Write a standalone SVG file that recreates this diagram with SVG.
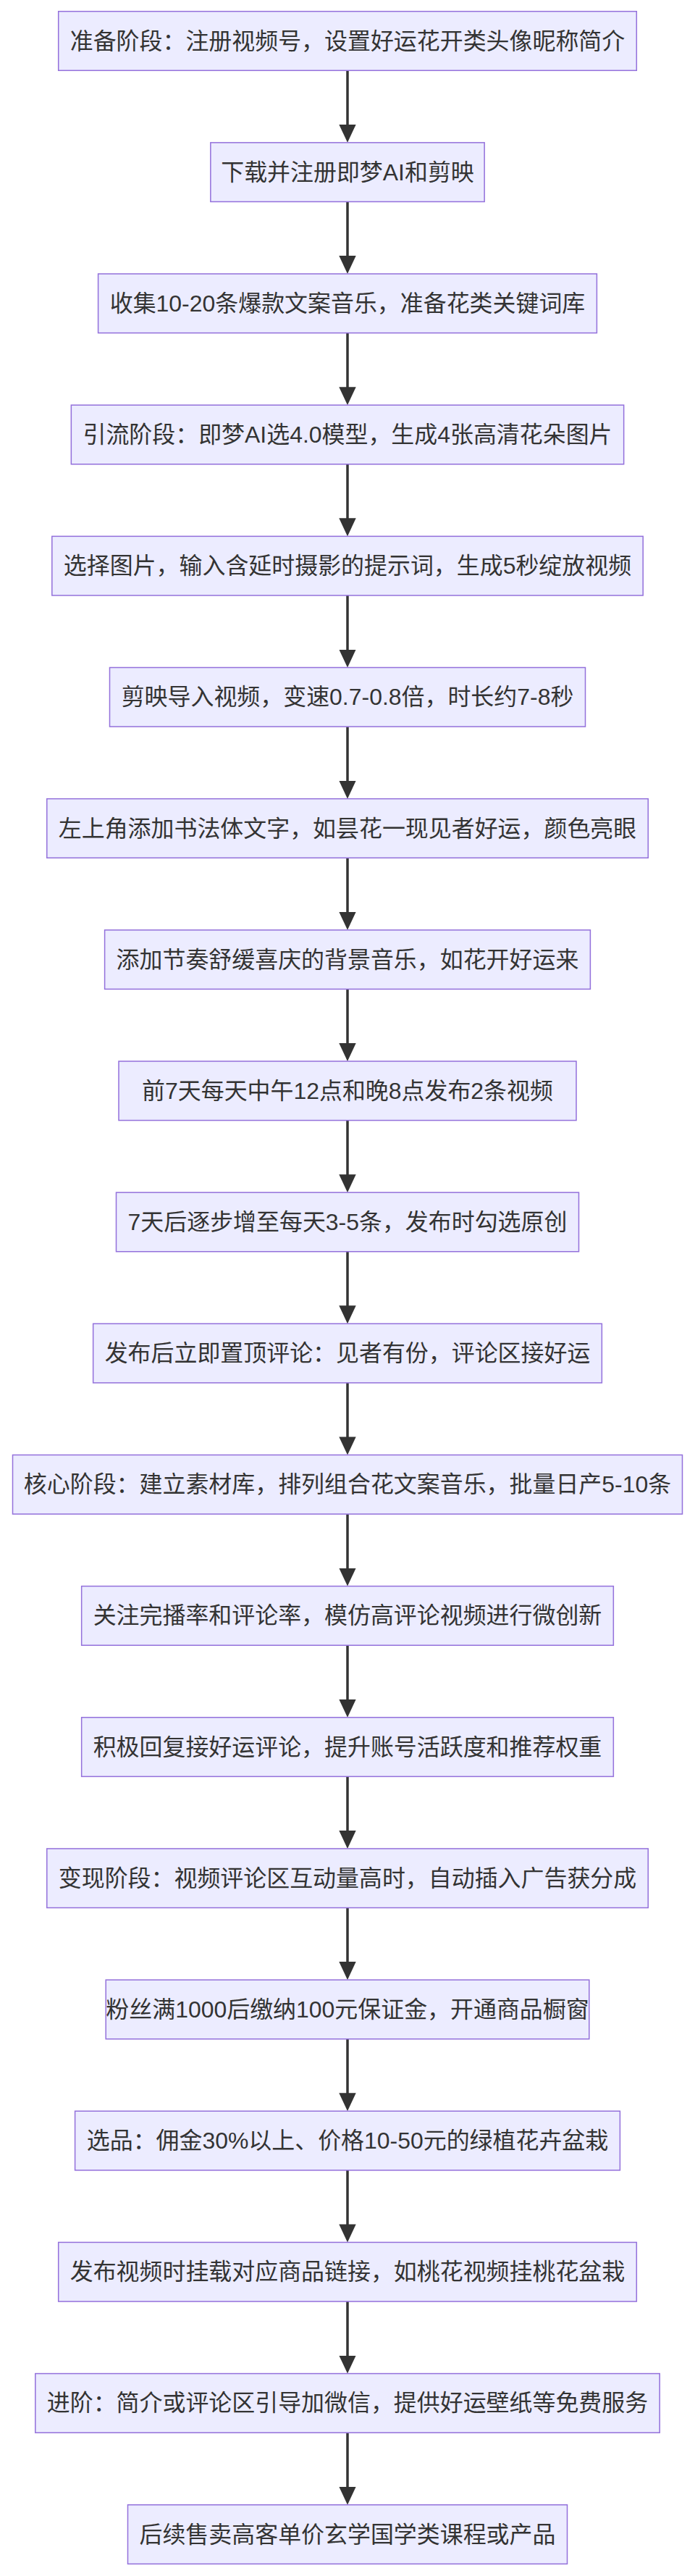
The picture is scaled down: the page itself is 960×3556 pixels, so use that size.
<svg xmlns="http://www.w3.org/2000/svg" width="960" height="3556" viewBox="0 0 960 3556">
<style>
.node rect{fill:#ECECFF;stroke:#9370DB;stroke-width:1.5px;}
.node text{fill:#333;font-family:"Liberation Sans","Noto Sans CJK SC",sans-serif;font-size:31.94px;text-anchor:middle;dominant-baseline:central;}
.edge{stroke:#333;stroke-width:3.5px;fill:none;}
</style>
<defs>
<marker id="arrow" viewBox="0 0 25 23.4" refX="5" refY="11.7" markerWidth="25" markerHeight="23.4" markerUnits="userSpaceOnUse" orient="auto">
<path d="M0,0 L25,11.7 L0,23.4 z" fill="#333"/>
</marker>
</defs>
<rect width="960" height="3556" fill="#fff"/>
<g id="connectors">
<path class="edge" marker-end="url(#arrow)" d="M480,97.3 L480,176.86"/>
<path class="edge" marker-end="url(#arrow)" d="M480,278.46 L480,358.02"/>
<path class="edge" marker-end="url(#arrow)" d="M480,459.62 L480,539.18"/>
<path class="edge" marker-end="url(#arrow)" d="M480,640.78 L480,720.34"/>
<path class="edge" marker-end="url(#arrow)" d="M480,821.94 L480,901.5"/>
<path class="edge" marker-end="url(#arrow)" d="M480,1003.1 L480,1082.66"/>
<path class="edge" marker-end="url(#arrow)" d="M480,1184.26 L480,1263.82"/>
<path class="edge" marker-end="url(#arrow)" d="M480,1365.42 L480,1444.98"/>
<path class="edge" marker-end="url(#arrow)" d="M480,1546.58 L480,1626.14"/>
<path class="edge" marker-end="url(#arrow)" d="M480,1727.74 L480,1807.3"/>
<path class="edge" marker-end="url(#arrow)" d="M480,1908.9 L480,1988.46"/>
<path class="edge" marker-end="url(#arrow)" d="M480,2090.06 L480,2169.62"/>
<path class="edge" marker-end="url(#arrow)" d="M480,2271.22 L480,2350.78"/>
<path class="edge" marker-end="url(#arrow)" d="M480,2452.38 L480,2531.94"/>
<path class="edge" marker-end="url(#arrow)" d="M480,2633.54 L480,2713.1"/>
<path class="edge" marker-end="url(#arrow)" d="M480,2814.7 L480,2894.26"/>
<path class="edge" marker-end="url(#arrow)" d="M480,2995.86 L480,3075.42"/>
<path class="edge" marker-end="url(#arrow)" d="M480,3177.02 L480,3256.58"/>
<path class="edge" marker-end="url(#arrow)" d="M480,3358.18 L480,3437.74"/>
</g>
<g id="n1" class="node"><rect x="80.7" y="15.7" width="798.6" height="81.6"/><text x="480" y="56.5">准备阶段：注册视频号，设置好运花开类头像昵称简介</text></g>
<g id="n2" class="node"><rect x="290.85" y="196.86" width="378.3" height="81.6"/><text x="480" y="237.7">下载并注册即梦AI和剪映</text></g>
<g id="n3" class="node"><rect x="135.6" y="378.02" width="688.8" height="81.6"/><text x="480" y="418.8">收集10-20条爆款文案音乐，准备花类关键词库</text></g>
<g id="n4" class="node"><rect x="98.35" y="559.18" width="763.3" height="81.6"/><text x="480" y="600">引流阶段：即梦AI选4.0模型，生成4张高清花朵图片</text></g>
<g id="n5" class="node"><rect x="71.8" y="740.34" width="816.4" height="81.6"/><text x="480" y="781.1">选择图片，输入含延时摄影的提示词，生成5秒绽放视频</text></g>
<g id="n6" class="node"><rect x="151.5" y="921.5" width="657" height="81.6"/><text x="480" y="962.3">剪映导入视频，变速0.7-0.8倍，时长约7-8秒</text></g>
<g id="n7" class="node"><rect x="64.75" y="1102.66" width="830.5" height="81.6"/><text x="480" y="1143.5">左上角添加书法体文字，如昙花一现见者好运，颜色亮眼</text></g>
<g id="n8" class="node"><rect x="144.6" y="1283.82" width="670.8" height="81.6"/><text x="480" y="1324.6">添加节奏舒缓喜庆的背景音乐，如花开好运来</text></g>
<g id="n9" class="node"><rect x="164" y="1464.98" width="632" height="81.6"/><text x="480" y="1505.8">前7天每天中午12点和晚8点发布2条视频</text></g>
<g id="n10" class="node"><rect x="160.5" y="1646.14" width="639" height="81.6"/><text x="480" y="1686.9">7天后逐步增至每天3-5条，发布时勾选原创</text></g>
<g id="n11" class="node"><rect x="128.65" y="1827.3" width="702.7" height="81.6"/><text x="480" y="1868.1">发布后立即置顶评论：见者有份，评论区接好运</text></g>
<g id="n12" class="node"><rect x="17.5" y="2008.46" width="925" height="81.6"/><text x="480" y="2049.3">核心阶段：建立素材库，排列组合花文案音乐，批量日产5-10条</text></g>
<g id="n13" class="node"><rect x="112.65" y="2189.62" width="734.7" height="81.6"/><text x="480" y="2230.4">关注完播率和评论率，模仿高评论视频进行微创新</text></g>
<g id="n14" class="node"><rect x="112.65" y="2370.78" width="734.7" height="81.6"/><text x="480" y="2411.6">积极回复接好运评论，提升账号活跃度和推荐权重</text></g>
<g id="n15" class="node"><rect x="64.75" y="2551.94" width="830.5" height="81.6"/><text x="480" y="2592.7">变现阶段：视频评论区互动量高时，自动插入广告获分成</text></g>
<g id="n16" class="node"><rect x="146.2" y="2733.1" width="667.6" height="81.6"/><text x="480" y="2773.9">粉丝满1000后缴纳100元保证金，开通商品橱窗</text></g>
<g id="n17" class="node"><rect x="103.6" y="2914.26" width="752.8" height="81.6"/><text x="480" y="2955.1">选品：佣金30%以上、价格10-50元的绿植花卉盆栽</text></g>
<g id="n18" class="node"><rect x="80.7" y="3095.42" width="798.6" height="81.6"/><text x="480" y="3136.2">发布视频时挂载对应商品链接，如桃花视频挂桃花盆栽</text></g>
<g id="n19" class="node"><rect x="48.8" y="3276.58" width="862.4" height="81.6"/><text x="480" y="3317.4">进阶：简介或评论区引导加微信，提供好运壁纸等免费服务</text></g>
<g id="n20" class="node"><rect x="176.5" y="3457.74" width="607" height="81.6"/><text x="480" y="3498.5">后续售卖高客单价玄学国学类课程或产品</text></g>
</svg>
